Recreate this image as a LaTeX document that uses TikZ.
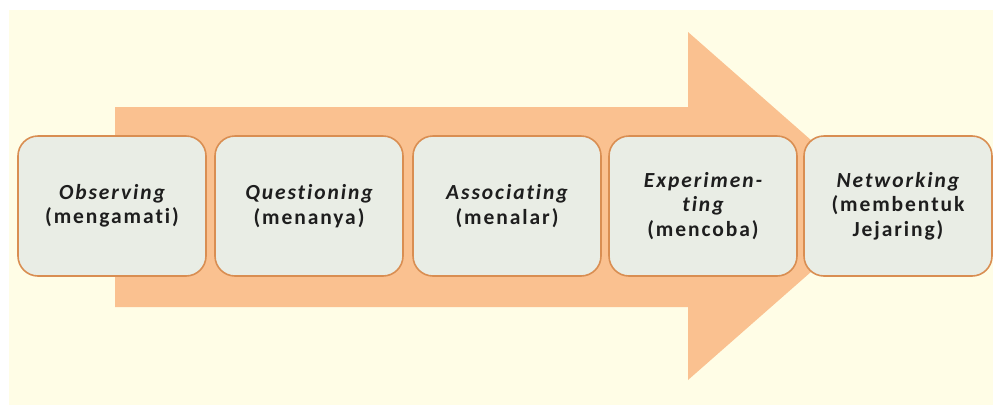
\documentclass[tikz,border=0pt]{standalone}
\usepackage{fontspec}
\setmainfont{Carlito}[LetterSpace=9,Ligatures=NoCommon]
\usepackage{xcolor}
\usepackage{tikz}
\usetikzlibrary{positioning}

\definecolor{pagecream}{HTML}{FFFDE6}
\definecolor{arrowpeach}{HTML}{FAC190}
\definecolor{boxfill}{HTML}{E9EDE5}
\definecolor{boxline}{HTML}{D98E52}
\definecolor{textgray}{HTML}{1E1E1E}

\begin{document}
\begin{tikzpicture}[x=1pt,y=-1pt,
  stepbox/.style={draw=boxline,line width=1.6pt,rounded corners=20pt,fill=boxfill,
    minimum width=188pt,minimum height=140pt,align=center,text=textgray,
    font=\bfseries\fontsize{21.5}{24.5}\selectfont}]
\useasboundingbox (0,0) rectangle (993,405);
\fill[pagecream] (9,10) rectangle (993,405);
% big arrow behind the steps
\fill[arrowpeach] (115,107) -- (688,107) -- (688,32) -- (886,206) -- (688,380) -- (688,307) -- (115,307) -- cycle;
\node[stepbox] (obs) at (112,206) {{\itshape Observing}\\(mengamati)};
\node[stepbox] (que) at (309,206) {{\itshape Questioning}\\(menanya)};
\node[stepbox] (ass) at (507,206) {{\itshape Associating}\\(menalar)};
\node[stepbox] (exp) at (703,206) {{\itshape Experimen-}\\{\itshape ting}\\(mencoba)};
\node[stepbox] (net) at (898,206) {{\itshape Networking}\\(membentuk\\Jejaring)};
\end{tikzpicture}
\end{document}
